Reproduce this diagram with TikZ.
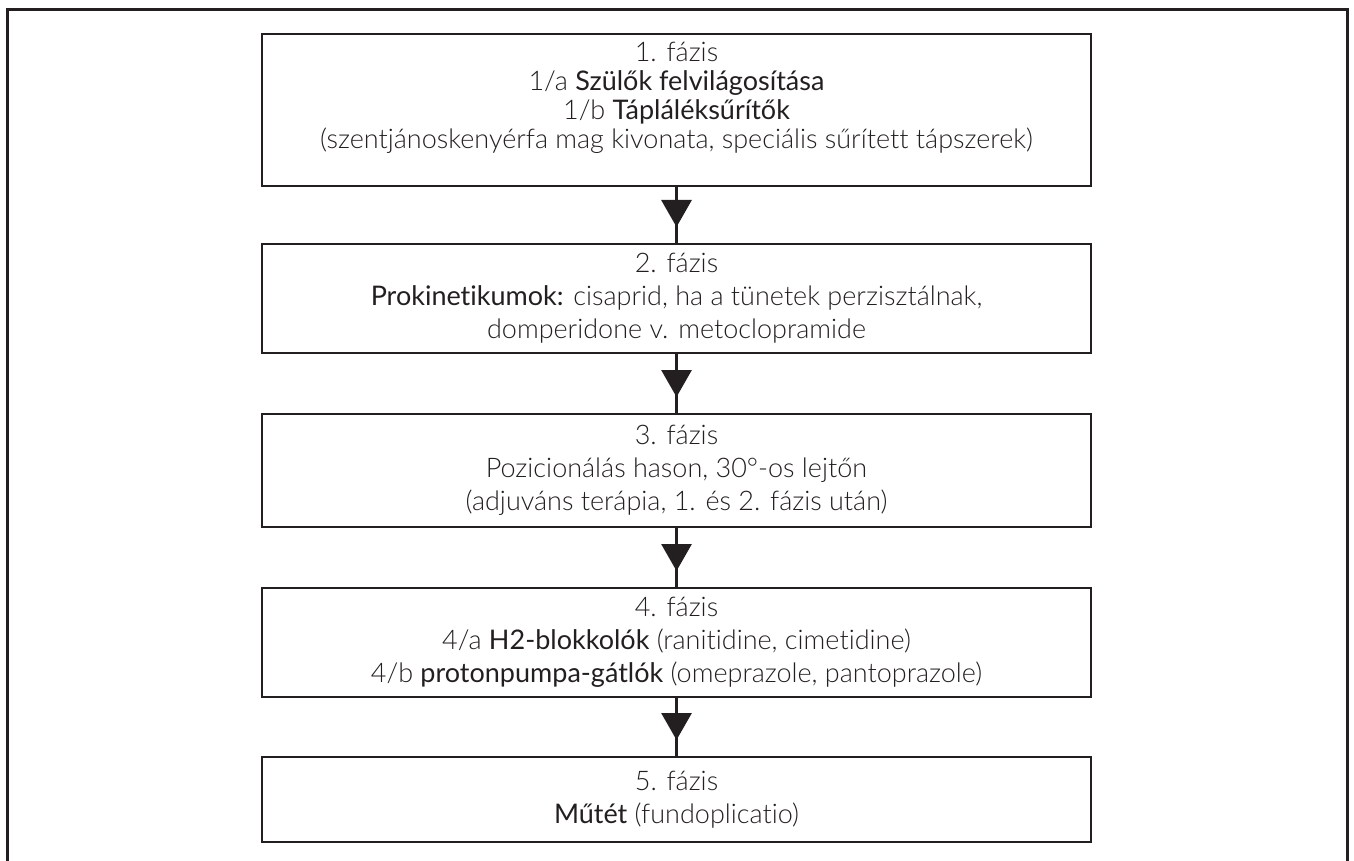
\documentclass[tikz,border=0pt]{standalone}
\usepackage{fontspec}
\setmainfont{Lato}[UprightFont=* Light, BoldFont=*, Ligatures={NoCommon}]
\usetikzlibrary{arrows.meta,calc}
\definecolor{ink}{RGB}{35,31,32}
\begin{document}
\begin{tikzpicture}[x=1pt,y=1pt,
  phase/.style={draw=ink, line width=2pt, text=ink, minimum width=829pt, align=center,
    font=\fontsize{27}{33}\selectfont, inner sep=0pt},
  txt/.style={text=ink, align=center, inner sep=0pt, font=\fontsize{27}{29}\selectfont},
  stem/.style={draw=ink, line width=3pt},
  arr/.style={draw=ink, fill=ink, line width=3pt, -{Triangle[length=27pt,width=30pt]}}]
\useasboundingbox (0,0) rectangle (1354,-861);
\draw[draw=ink, line width=3pt] (7.5,-861) -- (7.5,-9.5) -- (1347.5,-9.5) -- (1347.5,-861);
\node[phase, minimum height=152pt] (b1) at (676.5,-110) {};
\node[txt] (t1) at (676.5,-98) {1. fázis\\1/a \textbf{Szülők felvilágosítása}\\1/b \textbf{Tápláléksűrítők}\\(szentjánoskenyérfa mag kivonata, speciális sűrített tápszerek)};
\node[phase, minimum height=109pt] (b2) at (676.5,-298.5) {2. fázis\\\textbf{Prokinetikumok:} cisaprid, ha a tünetek perzisztálnak,\\domperidone v. metoclopramide};
\node[phase, minimum height=113pt] (b3) at (676.5,-470.5) {3. fázis\\Pozicionálás hason, 30°-os lejtőn\\(adjuváns terápia, 1. és 2. fázis után)};
\node[phase, minimum height=109pt] (b4) at (676.5,-642.5) {4. fázis\\4/a \textbf{H2-blokkolók} (ranitidine, cimetidine)\\4/b \textbf{protonpumpa-gátlók} (omeprazole, pantoprazole)};
\node[phase, minimum height=85pt] (b5) at (676.5,-799.5) {5. fázis\\\textbf{Műtét} (fundoplicatio)};
\foreach \a/\b in {b1/b2,b2/b3,b3/b4,b4/b5}{
  \draw[stem] (\a.south) -- (\b.north);
  \draw[arr] (\a.south) -- ($(\b.north)+(0,16)$);
}
\end{tikzpicture}
\end{document}
